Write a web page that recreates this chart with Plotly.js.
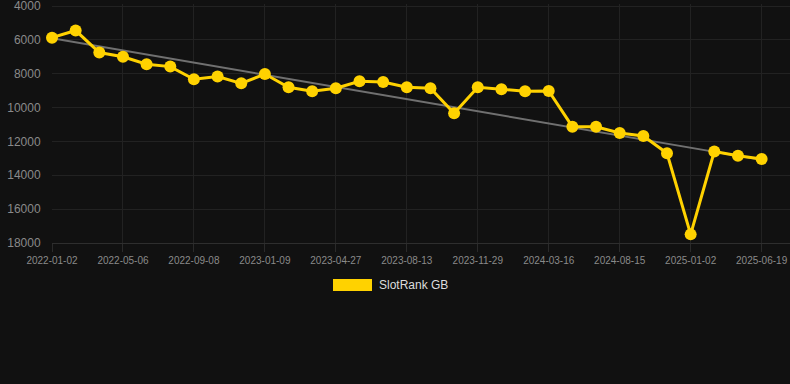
<!DOCTYPE html>
<html>
<head>
<meta charset="utf-8">
<script src="https://cdn.plot.ly/plotly-3.0.1.min.js"></script>
<style>
html,body{margin:0;padding:0;background:#111111;}
#chart{width:790px;height:384px;}
</style>
</head>
<body>
<div id="chart"></div>
<script>
// Category dates (every third one is labelled on the axis)
var dates = [
  "2022-01-02","2022-02-12","2022-03-25","2022-05-06","2022-06-17","2022-07-28",
  "2022-09-08","2022-10-19","2022-11-29","2023-01-09","2023-02-14","2023-03-22",
  "2023-04-27","2023-06-02","2023-07-08","2023-08-13","2023-09-18","2023-10-24",
  "2023-11-29","2024-01-04","2024-02-09","2024-03-16","2024-05-05","2024-06-25",
  "2024-08-15","2024-10-01","2024-11-17","2025-01-02","2025-02-27","2025-04-24",
  "2025-06-19"
];
// SlotRank GB values
var rank = [
  5870, 5450, 6750, 7000, 7440, 7580,
  8330, 8170, 8570, 8020, 8800, 9040,
  8860, 8450, 8490, 8800, 8860, 10340,
  8800, 8920, 9030, 9020, 11130, 11130,
  11500, 11680, 12700, 17490, 12600, 12840,
  13040
];
// Trend line end points
var trendDates = ["2022-01-02", "2025-06-19"];
var trendValues = [5910, 13090];
// Axis tick labels
var tickLabels = ["2022-01-02","2022-05-06","2022-09-08","2023-01-09","2023-04-27",
  "2023-08-13","2023-11-29","2024-03-16","2024-08-15","2025-01-02","2025-06-19"];
var yTicks = [4000, 6000, 8000, 10000, 12000, 14000, 16000, 18000];
var yTickText = ["4000","6000","8000","10000","12000","14000","16000","18000"];
var seriesName = "SlotRank GB";

var gold = "#FFD200";
var traces = [
  {
    x: trendDates, y: trendValues, type: "scatter", mode: "lines",
    line: {color: "#707070", width: 2}, hoverinfo: "skip", showlegend: false
  },
  {
    x: dates, y: rank, type: "scatter", mode: "lines+markers", name: seriesName,
    line: {color: gold, width: 3},
    marker: {color: gold, size: 12},
    cliponaxis: false, showlegend: false
  }
];

var plotH = 239;
var layout = {
  width: 790, height: 384,
  paper_bgcolor: "#111111", plot_bgcolor: "#111111",
  margin: {l: 52, r: 0, t: 4, b: 141},
  font: {family: "Liberation Sans, Arial, sans-serif", color: "#888888"},
  showlegend: false,
  xaxis: {
    type: "category", categoryorder: "array", categoryarray: dates,
    range: [0, 31.2],
    tickvals: tickLabels, ticktext: tickLabels,
    tickangle: 0,
    tickfont: {size: 10, color: "#8a8a8a"},
    showgrid: true, gridcolor: "#222222", gridwidth: 1,
    ticks: "outside", ticklen: 8, tickcolor: "#2a2a2a",
    showline: true, linecolor: "#2e2e2e", linewidth: 1,
    zeroline: false, fixedrange: true
  },
  yaxis: {
    range: [18000, 3882],
    tickvals: yTicks, ticktext: yTickText,
    tickfont: {size: 12, color: "#8a8a8a"},
    ticklabeloverflow: "allow",
    showgrid: true, gridcolor: "#222222", gridwidth: 1,
    ticks: "outside", ticklen: 8, tickcolor: "rgba(0,0,0,0)",
    showline: false, zeroline: false, fixedrange: true
  },
  shapes: [
    {type: "rect", xref: "paper", yref: "paper",
     x0: (333 - 52) / 738, x1: (372 - 52) / 738,
     y0: -(291 - 243) / plotH, y1: -(279 - 243) / plotH,
     fillcolor: gold, line: {width: 0}}
  ],
  annotations: [
    {text: seriesName, xref: "paper", yref: "paper",
     x: (377 - 52) / 738, y: -(285 - 243) / plotH,
     xanchor: "left", yanchor: "middle", showarrow: false,
     font: {size: 12, color: "#dddddd"}}
  ]
};

Plotly.newPlot("chart", traces, layout, {displayModeBar: false, staticPlot: true});
</script>
</body>
</html>
